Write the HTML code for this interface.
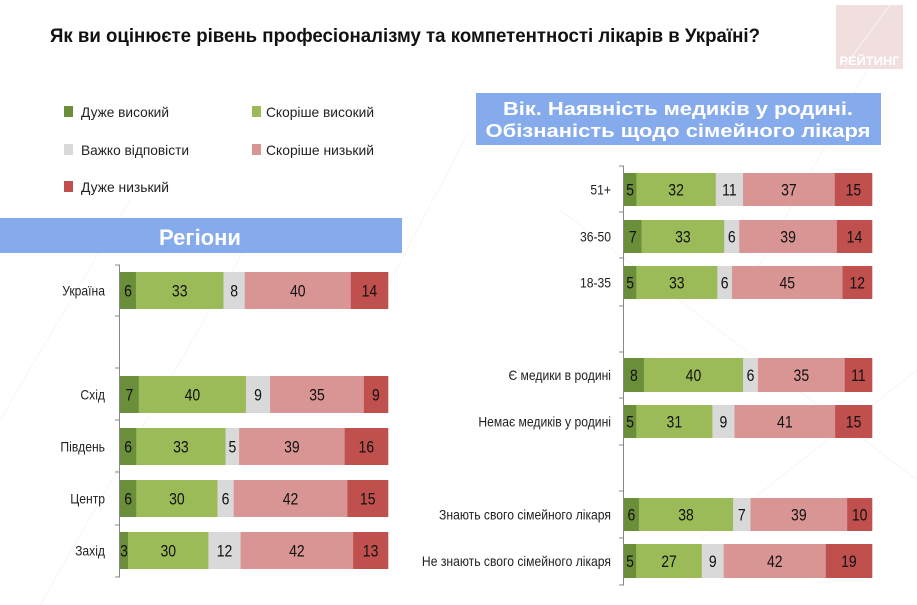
<!DOCTYPE html>
<html><head><meta charset="utf-8"><style>
html,body{margin:0;padding:0;background:#fff;}
svg{display:block;font-family:"Liberation Sans",sans-serif;}
</style></head><body>
<svg id="s" width="917" height="605" viewBox="0 0 917 605" xmlns="http://www.w3.org/2000/svg">
<g stroke="#f6f6f6" stroke-width="1" fill="none">
<line x1="0" y1="420" x2="130" y2="200"/><line x1="40" y1="605" x2="250" y2="240"/>
<line x1="380" y1="300" x2="470" y2="130"/><line x1="740" y1="300" x2="900" y2="10"/>
<line x1="700" y1="540" x2="917" y2="370"/><line x1="560" y1="210" x2="917" y2="480"/>
</g>
<text x="50" y="42" font-size="19" font-weight="bold" fill="#111" textLength="710" lengthAdjust="spacingAndGlyphs">Як ви оцінюєте рівень професіоналізму та компетентності лікарів в Україні?</text>
<rect x="836" y="5" width="67" height="64" fill="#f1dede"/>
<line x1="845" y1="66" x2="890" y2="5" stroke="#fbf3f3" stroke-width="1"/>
<text x="869.5" y="65" font-size="12" font-weight="bold" fill="#fff" text-anchor="middle" textLength="60" lengthAdjust="spacingAndGlyphs">РЕЙТИНГ</text>
<g font-size="14" fill="#222">
<rect x="64" y="106" width="9" height="11" fill="#6b8e3a"/><text x="81" y="117" textLength="88" lengthAdjust="spacingAndGlyphs">Дуже високий</text>
<rect x="252" y="106" width="9" height="11" fill="#9bbb59"/><text x="266" y="117" textLength="108" lengthAdjust="spacingAndGlyphs">Скоріше високий</text>
<rect x="64" y="144" width="9" height="11" fill="#d9d9d9"/><text x="81" y="155" textLength="108" lengthAdjust="spacingAndGlyphs">Важко відповісти</text>
<rect x="252" y="144" width="9" height="11" fill="#d99594"/><text x="266" y="155" textLength="108" lengthAdjust="spacingAndGlyphs">Скоріше низький</text>
<rect x="64" y="181" width="9" height="11" fill="#c0504d"/><text x="81" y="192" textLength="88" lengthAdjust="spacingAndGlyphs">Дуже низький</text>
</g>
<rect x="0" y="218" width="402" height="35" fill="#86abec"/>
<text x="200" y="245" font-size="22" font-weight="bold" fill="#fff" text-anchor="middle">Регіони</text>
<rect x="476" y="93" width="405" height="52" fill="#86abec"/>
<text x="678" y="115" font-size="18" font-weight="bold" fill="#fff" text-anchor="middle" textLength="350" lengthAdjust="spacingAndGlyphs">Вік. Наявність медиків у родині.</text>
<text x="678" y="137" font-size="18" font-weight="bold" fill="#fff" text-anchor="middle" textLength="385" lengthAdjust="spacingAndGlyphs">Обізнаність щодо сімейного лікаря</text>
<g id="charts"></g>
</svg>
<script>
var C=["#6b8e3a","#9bbb59","#d9d9d9","#d99594","#c0504d"];
var g=document.getElementById("charts"),h="";
function chart(x0,x1,ax0,ax1,ticks,rows,lblx){
 h+='<line x1="'+(x0-0.5)+'" y1="'+ax0+'" x2="'+(x0-0.5)+'" y2="'+ax1+'" stroke="#888" stroke-width="1"/>';
 ticks.forEach(function(t){h+='<line x1="'+(x0-5)+'" y1="'+t+'" x2="'+x0+'" y2="'+t+'" stroke="#888"/>';});
 rows.forEach(function(r){
  var s=r[3].reduce(function(a,b){return a+b},0),w=(x1-x0)/s,x=x0,yc=(r[1]+r[2])/2;
  h+='<text transform="translate('+lblx+','+(yc+5)+') scale(0.9,1)" font-size="13.5" fill="#222" text-anchor="end">'+r[0]+'</text>';
  r[3].forEach(function(v,i){var ww=v*w;
   h+='<rect x="'+x+'" y="'+r[1]+'" width="'+(ww+0.3)+'" height="'+(r[2]-r[1])+'" fill="'+C[i]+'"/>';
   h+='<text transform="translate('+(x+ww/2)+','+(yc+6)+') scale(0.85,1)" font-size="16.5" fill="#111" text-anchor="middle">'+v+'</text>';x+=ww;});
 });
}
chart(120,388,265,577,[265,316,368,420,472,525,577],[
["Україна",272,309,[6,33,8,40,14]],["Схід",376,413,[7,40,9,35,9]],["Південь",428,465,[6,33,5,39,16]],
["Центр",480,517,[6,30,6,42,15]],["Захід",532,569,[3,30,12,42,13]]],105);
chart(624,872,166,585,[166,212,258,306,352,398,445,491,538,585],[
["51+",173,206,[5,32,11,37,15]],["36-50",220,253,[7,33,6,39,14]],["18-35",266,299,[5,33,6,45,12]],
["Є медики в родині",358,392,[8,40,6,35,11]],["Немає медиків у родині",405,438,[5,31,9,41,15]],
["Знають свого сімейного лікаря",498,531,[6,38,7,39,10]],["Не знають свого сімейного лікаря",544,578,[5,27,9,42,19]]],611);
g.innerHTML=h;
</script>
</body></html>
